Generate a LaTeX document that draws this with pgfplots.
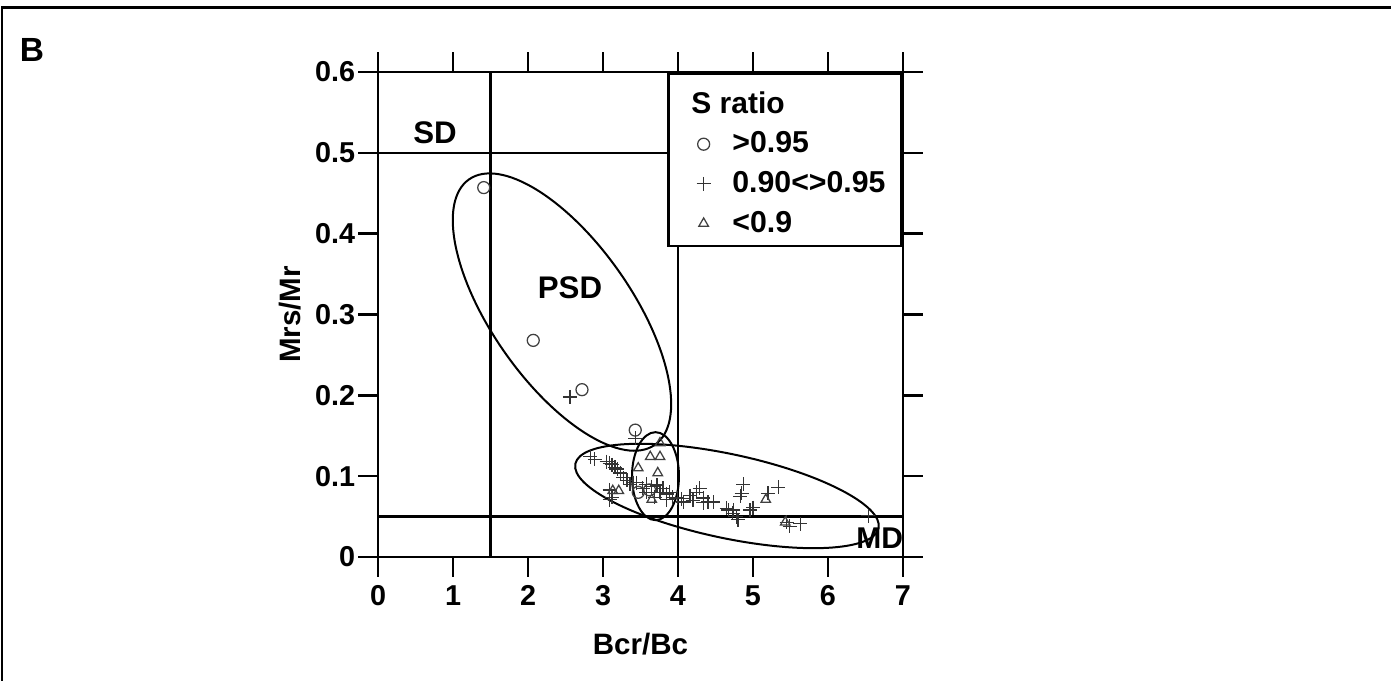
\documentclass[border=0pt]{standalone}
\usepackage{fontspec}
\setmainfont{Liberation Sans}
\usepackage{pgfplots}
\pgfplotsset{compat=1.18}
\begin{document}
\begin{tikzpicture}
\useasboundingbox (0,0) rectangle (556.4pt,272.4pt);
% panel frame (top and left only)
\draw[line width=1pt] (0.8pt,0) -- (0.8pt,269.4pt) -- (556.4pt,269.4pt);
\node[font=\fontsize{13.4}{15}\selectfont\bfseries] at (12.8pt,252.4pt) {B};
\begin{axis}[
  at={(151.2pt,49.6pt)}, anchor=south west,
  scale only axis, width=210pt, height=194pt,
  xmin=0, xmax=7, ymin=0, ymax=0.6,
  xtick={0,1,...,7}, ytick={0,0.1,...,0.6},
  tick align=outside, major tick length=8pt,
  xtick pos=both, ytick pos=both,
  xticklabel pos=lower, yticklabel pos=left,
  axis line style={line width=1pt},
  major tick style={line width=1pt, black},
  /pgf/number format/assume math mode=true,
  ticklabel style={font=\fontsize{11.5}{13}\selectfont\bfseries},
  yticklabel style={/pgf/number format/fixed, inner xsep=1pt},
  xlabel={Bcr/Bc}, ylabel={Mrs/Mr},
  label style={font=\fontsize{11.8}{14}\selectfont\bfseries},
  xlabel style={at={(axis description cs:0.5,-0.18)}, anchor=center},
  ylabel style={at={(axis description cs:-0.168,0.5)}, anchor=center},
  legend style={at={(1,1)}, anchor=north east, draw=black, line width=1pt,
    fill=white, inner xsep=4.5pt, inner ysep=2pt, row sep=1.9pt,
    font=\fontsize{12.1}{14}\selectfont\bfseries},
  legend cell align=left,
  legend image code/.code={%
    \path[draw=none, fill=none] (0pt,-2pt) rectangle (19pt,2pt);
    \draw[mark repeat=2,mark phase=2,#1] plot coordinates {(0pt,0pt) (9.5pt,0pt) (19pt,0pt)};},
]
% domain boundaries
\addplot[forget plot, black, line width=0.9pt] coordinates {(1.5,0) (1.5,0.6)};
\addplot[forget plot, black, line width=0.9pt] coordinates {(4,0) (4,0.6)};
\addplot[forget plot, black, line width=0.9pt] coordinates {(0,0.5) (7,0.5)};
\addplot[forget plot, black, line width=0.9pt] coordinates {(0,0.05) (7,0.05)};

\addlegendimage{empty legend}
\addlegendentry{\hspace*{-16.4pt}\rule{0pt}{12pt}\fontsize{12}{14}\selectfont S ratio}

% S ratio > 0.95
\addplot[only marks, mark=o, mark size=2.4pt, black!75, mark options={line width=0.5pt}]
coordinates {
  (1.41,0.457) (2.07,0.268) (2.72,0.207) (3.43,0.157)
  (3.47,0.080) (3.62,0.083)
};
\addlegendentry{>0.95}

% 0.90 < S ratio < 0.95
\addplot[only marks, mark=+, mark size=2.8pt, black!80, mark options={line width=0.5pt}]
coordinates {
  (2.56,0.198) (2.83,0.124) (2.89,0.121) (3.05,0.118) (3.09,0.116)
  (3.12,0.114) (3.16,0.111) (3.19,0.109) (3.23,0.104) (3.27,0.098)
  (3.32,0.095) (3.36,0.090) (3.40,0.092) (3.43,0.147) (3.45,0.092)
  (3.53,0.085) (3.58,0.090) (3.65,0.087) (3.72,0.089) (3.76,0.080)
  (3.80,0.085) (3.85,0.078) (3.89,0.080) (3.69,0.074) (3.85,0.071)
  (3.93,0.074) (3.99,0.073) (4.05,0.072) (4.07,0.068) (4.16,0.076)
  (4.20,0.070) (4.25,0.080) (4.29,0.085) (4.34,0.073) (4.34,0.067)
  (4.40,0.068) (4.47,0.068) (4.65,0.060) (4.67,0.058) (4.73,0.054)
  (4.74,0.058) (4.78,0.050) (4.80,0.046) (4.83,0.075) (4.85,0.079)
  (4.87,0.090) (4.96,0.058) (5.00,0.061) (5.20,0.079) (5.34,0.086)
  (5.45,0.043) (5.49,0.038) (5.63,0.041) (6.54,0.051) (3.12,0.074)
  (3.09,0.083) (3.58,0.080) (3.09,0.071)
};
\addlegendentry{0.90<>0.95}

% S ratio < 0.9
\addplot[only marks, mark=triangle, mark size=2.2pt, black!75, mark options={line width=0.5pt}]
coordinates {
  (3.76,0.141) (3.63,0.124) (3.76,0.124) (3.47,0.110) (3.73,0.104)
  (3.13,0.082) (3.21,0.082) (3.65,0.071) (5.17,0.071) (5.43,0.043)
};
\addlegendentry{<0.9}

% domain envelopes
\coordinate (e1) at (axis cs:2.453,0.303);
\coordinate (e2) at (axis cs:3.70,0.100);
\coordinate (e3) at (axis cs:4.653,0.0755);
\draw[line width=0.8pt, rotate around={-55:(e1)}] (e1) ellipse [x radius=64.8pt, y radius=28pt];
\draw[line width=0.8pt] (e2) ellipse [x radius=9.4pt, y radius=17.6pt];
\draw[line width=0.8pt, rotate around={-12:(e3)}] (e3) ellipse [x radius=62pt, y radius=16.8pt];

\node[font=\fontsize{12.5}{14}\selectfont\bfseries] at (axis cs:0.76,0.525) {SD};
\node[font=\fontsize{12.5}{14}\selectfont\bfseries] at (axis cs:2.56,0.333) {PSD};
\node[font=\fontsize{12}{14}\selectfont\bfseries] at (axis cs:6.69,0.0235) {MD};
\end{axis}
\end{tikzpicture}
\end{document}
